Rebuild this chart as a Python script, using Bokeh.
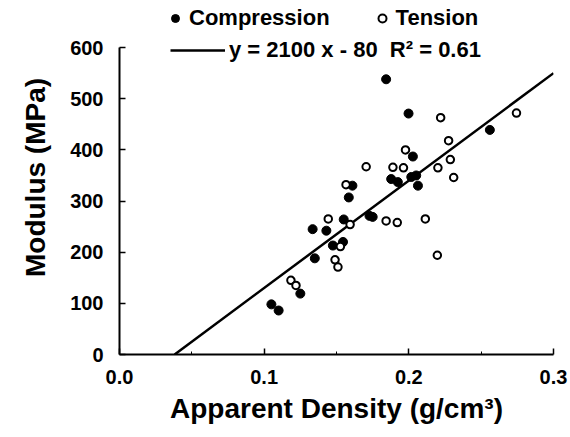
from bokeh.plotting import figure
from bokeh.models import Range1d, Legend, LegendItem, FixedTicker, PrintfTickFormatter
from bokeh.embed import file_html
from bokeh.resources import INLINE

# ---- data ----
comp_density = [0.105, 0.110, 0.125, 0.135, 0.1335, 0.143, 0.1475, 0.1545, 0.155, 0.1585,
                0.161, 0.1728, 0.175, 0.1843, 0.1878, 0.1924, 0.1998, 0.2017, 0.2051,
                0.2063, 0.2028, 0.256]
comp_modulus = [98, 86, 119, 188, 245, 242, 213, 220, 264, 307,
                330, 271, 269, 538, 343, 337, 471, 347, 350,
                330, 387, 439]
tens_density = [0.1185, 0.122, 0.1443, 0.149, 0.151, 0.1527, 0.1566, 0.1594, 0.1705, 0.1843,
                0.189, 0.192, 0.1963, 0.1977, 0.2114, 0.2197, 0.2201, 0.222, 0.2275,
                0.2287, 0.231, 0.2744]
tens_modulus = [145, 135, 265, 185, 171, 211, 332, 254, 367, 261,
                366, 258, 365, 400, 265, 194, 365, 463, 418,
                381, 346, 472]
fit_slope = 2100
fit_intercept = -80
fit_label = "y = 2100 x - 80  R\u00b2 = 0.61"
x_ticks = [0.0, 0.1, 0.2, 0.3]
y_ticks = [0, 100, 200, 300, 400, 500, 600]
x_title = "Apparent Density (g/cm\u00b3)"
y_title = "Modulus (MPa)"

x_max = 0.3
y_axis_max = 600
fit_x = [-fit_intercept / fit_slope, x_max]
fit_y = [fit_slope * x + fit_intercept for x in fit_x]

FONT = "Liberation Sans"

# frame reaches the top of the canvas so the legend rows sit inside it;
# the y axis line itself stops at 600
p = figure(width=570, height=437, output_backend="svg", toolbar_location=None,
           x_range=Range1d(0, x_max), y_range=Range1d(0, 692),
           min_border_left=119, min_border_right=17, min_border_top=0, min_border_bottom=83)
p.outline_line_color = None
p.xgrid.visible = False
p.ygrid.visible = False
p.background_fill_color = "white"
p.border_fill_color = "white"

line_r = p.line(fit_x, fit_y, line_color="black", line_width=2.5)
comp_r = p.scatter(comp_density, comp_modulus, marker="circle", size=9,
                   fill_color="black", line_color="black", line_width=1)
tens_r = p.scatter(tens_density, tens_modulus, marker="circle", size=7.5,
                   fill_color="white", line_color="black", line_width=2)

for ax in (p.xaxis[0], p.yaxis[0]):
    ax.axis_line_color = "black"
    ax.axis_line_width = 2
    ax.major_tick_in = 6
    ax.major_tick_out = 0
    ax.major_tick_line_width = 1.5
    ax.minor_tick_in = 3
    ax.minor_tick_out = 0
    ax.major_label_text_font = FONT
    ax.major_label_text_font_style = "bold"
    ax.major_label_text_font_size = "20px"
    ax.major_label_text_color = "black"
    ax.axis_label_text_font = FONT
    ax.axis_label_text_font_style = "bold"
    ax.axis_label_text_font_size = "28px"
    ax.axis_label_text_color = "black"

p.xaxis.ticker = FixedTicker(ticks=x_ticks, minor_ticks=[0.05, 0.15, 0.25])
p.xaxis.formatter = PrintfTickFormatter(format="%.1f")
p.yaxis.ticker = FixedTicker(ticks=y_ticks, minor_ticks=[])
p.yaxis.bounds = (0, y_axis_max)
p.xaxis.major_label_standoff = 15
p.yaxis.major_label_standoff = 16
p.xaxis.axis_label = x_title
p.yaxis.axis_label = y_title
p.xaxis.axis_label_standoff = 6
p.yaxis.axis_label_standoff = 16

leg1 = Legend(items=[LegendItem(label="Compression", renderers=[comp_r]),
                     LegendItem(label="Tension", renderers=[tens_r])],
              location=(46, 323), orientation="horizontal")
leg2 = Legend(items=[LegendItem(label=fit_label, renderers=[line_r])],
              location=(51, 291), orientation="horizontal")
for lg in (leg1, leg2):
    lg.padding = 0
    lg.margin = 0
    lg.border_line_color = None
    lg.background_fill_alpha = 0
    lg.label_text_font = FONT
    lg.label_text_font_style = "bold"
    lg.label_text_font_size = "22px"
    lg.label_text_color = "black"
    lg.label_height = 24
    lg.glyph_height = 24
leg1.glyph_width = 20
leg1.label_standoff = 4
leg1.spacing = 42
leg2.glyph_width = 55
leg2.label_standoff = 4
p.add_layout(leg1, "center")
p.add_layout(leg2, "center")

open("out.html", "w").write(file_html(p, INLINE))
